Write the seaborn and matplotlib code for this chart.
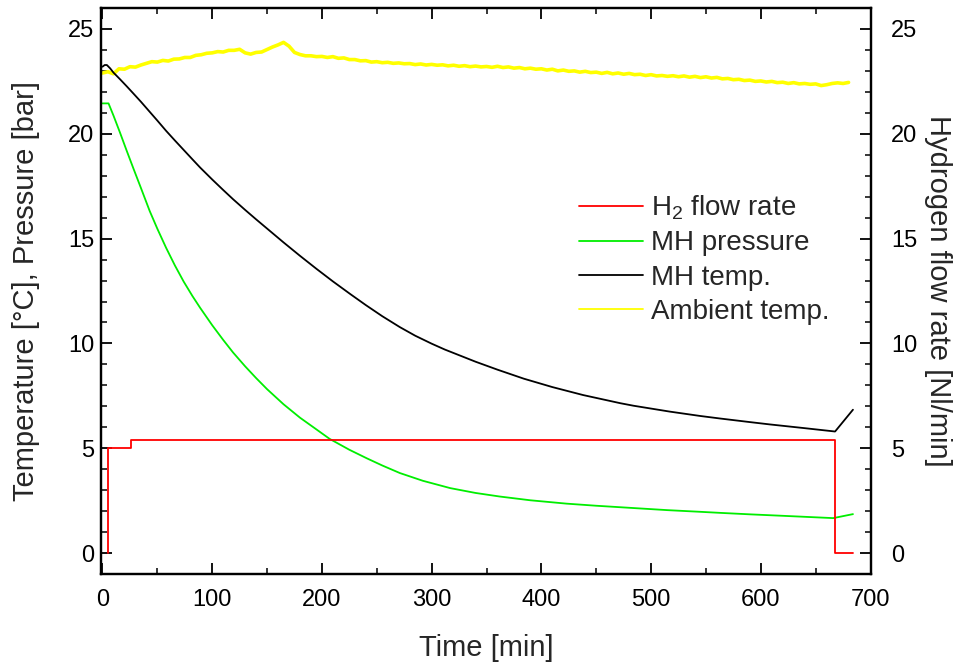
import matplotlib
matplotlib.use("Agg")
import matplotlib.pyplot as plt
from matplotlib.ticker import MultipleLocator
import seaborn as sns
import pandas as pd

# ---- measured series ----
flow_time = [5, 5, 25.7, 25.7, 667.7, 667.7, 684]
flow_rate = [0, 5.0, 5.0, 5.4, 5.4, 0, 0]

pressure_time = [0, 5.5, 10, 16, 22, 28, 35, 43, 50, 58, 66, 74, 82, 89, 100, 110,
                 119, 130, 140, 150, 165, 180, 195, 207, 225, 241, 255, 271, 292,
                 317, 340, 362, 390, 423, 450, 484, 515, 545, 563, 590, 620, 645,
                 666, 684]
pressure = [21.45, 21.45, 20.87, 20.05, 19.2, 18.37, 17.42, 16.32, 15.47, 14.56,
            13.72, 12.95, 12.26, 11.7, 10.87, 10.17, 9.57, 8.91, 8.35, 7.82, 7.1,
            6.46, 5.9, 5.45, 4.93, 4.52, 4.18, 3.82, 3.45, 3.1, 2.87, 2.7, 2.52,
            2.36, 2.26, 2.15, 2.05, 1.97, 1.92, 1.85, 1.78, 1.72, 1.67, 1.86]

mh_temp_time = [0, 2, 4, 7, 10, 16, 22, 28, 35, 43, 50, 58, 66, 74, 82, 89, 100,
                110, 119, 130, 140, 150, 165, 180, 195, 210, 226, 240, 255, 271,
                285, 300, 312, 340, 360, 384, 410, 438, 472, 484, 517, 545, 563,
                590, 608, 640, 667.7, 684]
mh_temp = [23.2, 23.28, 23.28, 23.12, 22.92, 22.6, 22.27, 21.93, 21.53, 21.05,
           20.63, 20.14, 19.68, 19.23, 18.78, 18.39, 17.82, 17.32, 16.88, 16.37,
           15.92, 15.48, 14.82, 14.18, 13.56, 12.96, 12.35, 11.83, 11.3, 10.78,
           10.37, 9.99, 9.71, 9.13, 8.75, 8.32, 7.92, 7.54, 7.15, 7.03, 6.75, 6.54,
           6.42, 6.25, 6.14, 5.96, 5.8, 6.84]

ambient_time = list(range(0, 685, 5))
ambient_temp = [
    22.90, 22.96, 22.86, 23.10, 23.08, 23.20, 23.18, 23.28, 23.36, 23.44,
    23.42, 23.50, 23.47, 23.56, 23.57, 23.64, 23.64, 23.74, 23.77, 23.84,
    23.86, 23.92, 23.90, 23.98, 23.98, 24.03, 23.86, 23.80, 23.88, 23.90,
    24.02, 24.14, 24.24, 24.36, 24.18, 23.88, 23.78, 23.72, 23.72, 23.68,
    23.69, 23.64, 23.68, 23.60, 23.62, 23.54, 23.54, 23.48, 23.49, 23.42,
    23.44, 23.39, 23.41, 23.36, 23.38, 23.34, 23.35, 23.30, 23.33, 23.28,
    23.31, 23.27, 23.29, 23.24, 23.27, 23.22, 23.25, 23.20, 23.23, 23.19,
    23.21, 23.17, 23.22, 23.16, 23.19, 23.13, 23.16, 23.10, 23.13, 23.08,
    23.10, 23.04, 23.08, 23.00, 23.04, 22.98, 23.00, 22.94, 22.98, 22.92,
    22.94, 22.88, 22.93, 22.86, 22.90, 22.84, 22.88, 22.82, 22.84, 22.78,
    22.82, 22.76, 22.78, 22.74, 22.77, 22.72, 22.76, 22.70, 22.74, 22.68,
    22.72, 22.66, 22.69, 22.62, 22.64, 22.58, 22.60, 22.54, 22.56, 22.50,
    22.52, 22.47, 22.50, 22.44, 22.46, 22.40, 22.44, 22.38, 22.40, 22.36,
    22.38, 22.30, 22.34, 22.40, 22.43, 22.40, 22.45,
]

series_labels = ["H$_2$ flow rate", "MH pressure", "MH temp.", "Ambient temp."]
series_colors = ["#ff0000", "#00ee00", "#000000", "#ffff00"]

sns.set_theme(style="ticks")
plt.rcParams["font.family"] = ["Liberation Sans", "DejaVu Sans"]
plt.rcParams["mathtext.fontset"] = "custom"
plt.rcParams["mathtext.rm"] = "Liberation Sans"
plt.rcParams["mathtext.it"] = "Liberation Sans:italic"

fig = plt.figure(figsize=(9.62, 6.66), dpi=100)
ax = fig.add_axes([0.1054, 0.138, 0.7995, 0.850])
ax2 = ax.twinx()

df_p = pd.DataFrame({"t": pressure_time, "v": pressure})
df_m = pd.DataFrame({"t": mh_temp_time, "v": mh_temp})
df_a = pd.DataFrame({"t": ambient_time, "v": ambient_temp})
df_f = pd.DataFrame({"t": flow_time, "v": flow_rate})

sns.lineplot(data=df_a, x="t", y="v", ax=ax, color=series_colors[3], lw=2.6,
             estimator=None, sort=False)
sns.lineplot(data=df_p, x="t", y="v", ax=ax, color=series_colors[1], lw=1.3,
             estimator=None, sort=False)
sns.lineplot(data=df_m, x="t", y="v", ax=ax, color=series_colors[2], lw=1.3,
             estimator=None, sort=False)
sns.lineplot(data=df_f, x="t", y="v", ax=ax2, color=series_colors[0], lw=1.3,
             estimator=None, sort=False)

for a in (ax, ax2):
    a.set_xlim(-1, 700)
    a.set_ylim(-1, 26)
    a.yaxis.set_major_locator(MultipleLocator(5))
    a.yaxis.set_minor_locator(MultipleLocator(1))
    for s in a.spines.values():
        s.set_linewidth(1.6)
        s.set_color("black")

ax.xaxis.set_major_locator(MultipleLocator(100))
ax.xaxis.set_minor_locator(MultipleLocator(50))
ax.tick_params(axis="both", which="major", direction="in", length=8, width=1.3,
               labelsize=17, colors="black", top=True, right=False)
ax.tick_params(axis="both", which="minor", direction="in", length=4, width=1.3,
               top=True, right=False)
ax2.tick_params(axis="y", which="major", direction="in", length=8, width=1.3,
                labelsize=17, colors="black", pad=15)
ax2.tick_params(axis="y", which="minor", direction="in", length=4, width=1.3)
ax.tick_params(axis="x", pad=11)
ax.tick_params(axis="y", pad=5)

ax.set_xlabel("Time [min]", fontsize=21, labelpad=16)
ax.set_ylabel("Temperature [°C], Pressure [bar]", fontsize=21, labelpad=20)
ax2.set_ylabel("Hydrogen flow rate [Nl/min]", fontsize=21, rotation=270,
               labelpad=25)

handles = [plt.Line2D([], [], color=c, lw=1.3) for c in series_colors]
ax.legend(handles, series_labels, loc="center left",
          bbox_to_anchor=(0.603, 0.556), frameon=False, fontsize=20,
          handlelength=2.3, handletextpad=0.3, labelspacing=0.3, borderpad=0)

fig.savefig("out.png", dpi=100)
